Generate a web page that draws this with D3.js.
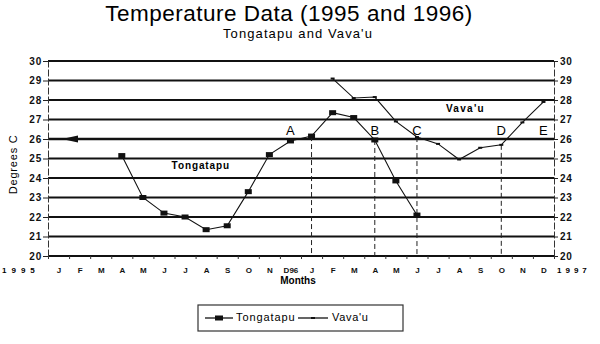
<!DOCTYPE html>
<html>
<head>
<meta charset="utf-8">
<script src="https://cdn.jsdelivr.net/npm/d3@7"></script>
<style>
  body { margin: 0; background: #fff; }
  svg { display: block; font-family: "Liberation Sans", Arial, Helvetica, sans-serif; }
</style>
</head>
<body>
<svg id="chart" width="600" height="344"></svg>
<script>
// month labels along the bottom, Jan 1995 .. Dec 1996
const monthLabels = ["J","F","M","A","M","J","J","A","S","O","N","D96",
                     "J","F","M","A","M","J","J","A","S","O","N","D"];
const yTicks = [20, 21, 22, 23, 24, 25, 26, 27, 28, 29, 30];

// Tongatapu starts April 1995 (month index 3)
const tongatapuStart = 3;
const tongatapuValues = [25.15, 23.0, 22.2, 22.0, 21.35, 21.55, 23.3, 25.2, 25.9,
                         26.15, 27.35, 27.1, 25.95, 23.85, 22.1];

// Vava'u starts February 1996 (month index 13)
const vavauStart = 13;
const vavauValues = [29.1, 28.1, 28.15, 26.9, 26.1, 25.75, 24.95, 25.55, 25.7, 26.85, 27.9];

// letters written above the 26 line, and the dashed drop lines
const noteLetters = ["A", "B", "C", "D", "E"];
const noteMonths = [11, 15, 17, 21, 23];
const dropMonths = [12, 15, 17, 21];
const dropSeries = ["Tongatapu", "Tongatapu", "Vava'u", "Vava'u"];

const svg = d3.select("#chart");

const x = d3.scaleLinear().domain([0, 24]).range([48, 554]);
const y = d3.scaleLinear().domain([20, 30]).range([256, 61]);
const mx = (m) => x(m + 0.5);

const tonga = tongatapuValues.map((v, i) => ({ m: tongatapuStart + i, v }));
const vava = vavauValues.map((v, i) => ({ m: vavauStart + i, v }));
const seriesByName = { "Tongatapu": tonga, "Vava'u": vava };

// titles
svg.append("text")
  .attr("x", 289).attr("y", 21)
  .attr("text-anchor", "middle")
  .style("font-size", "22.5px").style("letter-spacing", "0.5px")
  .text("Temperature Data (1995 and 1996)");
svg.append("text")
  .attr("x", 298).attr("y", 38)
  .attr("text-anchor", "middle")
  .style("font-size", "13px").style("letter-spacing", "1.1px")
  .text("Tongatapu and Vava'u");

// horizontal grid lines
svg.append("g")
  .selectAll("line")
  .data(yTicks)
  .join("line")
  .attr("x1", x(0)).attr("x2", x(24))
  .attr("y1", (d) => y(d)).attr("y2", (d) => y(d))
  .attr("stroke", "#111")
  .attr("stroke-width", (d) => (d === 26 ? 2.6 : 2));

// arrow on the 26 line
const y26 = y(26);
svg.append("path")
  .attr("d", `M${x(0) + 14},${y26} L${x(0) + 30},${y26 - 3.5} L${x(0) + 30},${y26 + 3.5} Z`)
  .attr("fill", "#111");

// left and right axes
const leftAxis = svg.append("g")
  .attr("transform", `translate(${x(0)},0)`)
  .call(d3.axisLeft(y).tickValues(yTicks).tickSize(5).tickSizeOuter(0).tickPadding(1));
const rightAxis = svg.append("g")
  .attr("transform", `translate(${x(24)},0)`)
  .call(d3.axisRight(y).tickValues(yTicks).tickSize(4).tickSizeOuter(0).tickPadding(2));
[leftAxis, rightAxis].forEach((g) => {
  g.select(".domain").attr("stroke", "#333").attr("stroke-dasharray", "7,2");
  g.selectAll(".tick line").attr("stroke", "#222");
  g.selectAll(".tick text")
    .attr("fill", "#111")
    .style("font-size", "10px").style("font-weight", "bold").style("letter-spacing", "0.8px");
});

// bottom ticks and month labels
const tickAxis = svg.append("g")
  .attr("transform", `translate(0,${y(20)})`)
  .call(d3.axisBottom(x).tickValues(d3.range(0, 25)).tickSize(3).tickFormat(""));
tickAxis.select(".domain").remove();
tickAxis.selectAll(".tick line").attr("stroke", "#333");

const labelAxis = svg.append("g")
  .attr("transform", `translate(0,${y(20)})`)
  .call(d3.axisBottom(x)
    .tickValues(d3.range(24).map((i) => i + 0.5))
    .tickSize(0).tickPadding(11)
    .tickFormat((d) => monthLabels[d - 0.5]));
labelAxis.select(".domain").remove();
labelAxis.selectAll(".tick text")
  .attr("fill", "#111")
  .style("font-size", "8px").style("font-weight", "bold");

svg.append("text")
  .attr("x", 2).attr("y", 273)
  .style("font-size", "8px").style("font-weight", "bold").style("letter-spacing", "5px")
  .text("1995");
svg.append("text")
  .attr("x", x(24) + 3).attr("y", 273)
  .style("font-size", "8px").style("font-weight", "bold").style("letter-spacing", "4px")
  .text("1997");

// axis titles
svg.append("text")
  .attr("transform", `translate(17,${y(24.7)}) rotate(-90)`)
  .attr("text-anchor", "middle")
  .style("font-size", "11px").style("letter-spacing", "0.8px")
  .text("Degrees C");
svg.append("text")
  .attr("x", 298).attr("y", 284)
  .attr("text-anchor", "middle")
  .style("font-size", "10px").style("font-weight", "bold")
  .text("Months");

// dashed drop lines
svg.append("g")
  .selectAll("line")
  .data(dropMonths.map((m, i) => {
    const pt = seriesByName[dropSeries[i]].find((d) => d.m === m);
    return { m, v: pt.v };
  }))
  .join("line")
  .attr("x1", (d) => mx(d.m)).attr("x2", (d) => mx(d.m))
  .attr("y1", (d) => y(d.v)).attr("y2", y(20))
  .attr("stroke", "#222").attr("stroke-width", 1)
  .attr("stroke-dasharray", "5,3");

// series
const line = d3.line().x((d) => mx(d.m)).y((d) => y(d.v));

svg.append("path")
  .datum(vava)
  .attr("d", line)
  .attr("fill", "none").attr("stroke", "#111").attr("stroke-width", 1.1);
svg.append("g")
  .selectAll("rect")
  .data(vava)
  .join("rect")
  .attr("x", (d) => mx(d.m) - 2).attr("y", (d) => y(d.v) - 1)
  .attr("width", 4).attr("height", 2)
  .attr("fill", "#111");

svg.append("path")
  .datum(tonga)
  .attr("d", line)
  .attr("fill", "none").attr("stroke", "#111").attr("stroke-width", 1.1);
svg.append("g")
  .selectAll("rect")
  .data(tonga)
  .join("rect")
  .attr("x", (d) => mx(d.m) - 3.5).attr("y", (d) => y(d.v) - 2.5)
  .attr("width", 7).attr("height", 5)
  .attr("fill", "#111");

// series names inside the plot
svg.append("text")
  .attr("x", x(7.25)).attr("y", y(24.45))
  .attr("text-anchor", "middle")
  .style("font-size", "10px").style("font-weight", "bold").style("letter-spacing", "0.9px")
  .text("Tongatapu");
svg.append("text")
  .attr("x", x(19.8)).attr("y", y(27.4))
  .attr("text-anchor", "middle")
  .style("font-size", "10px").style("font-weight", "bold").style("letter-spacing", "1.3px")
  .text("Vava'u");

// letters A-E
svg.append("g")
  .selectAll("text")
  .data(noteLetters)
  .join("text")
  .attr("x", (d, i) => mx(noteMonths[i]))
  .attr("y", y(26) - 4)
  .attr("text-anchor", "middle")
  .style("font-size", "13px")
  .text((d) => d);

// legend
const legend = svg.append("g").attr("transform", "translate(198,305)");
legend.append("rect")
  .attr("width", 205).attr("height", 26)
  .attr("fill", "#fff").attr("stroke", "#333").attr("stroke-width", 1.2);
legend.append("line")
  .attr("x1", 7).attr("x2", 35).attr("y1", 13).attr("y2", 13)
  .attr("stroke", "#111").attr("stroke-width", 1.3);
legend.append("rect")
  .attr("x", 17).attr("y", 10.5).attr("width", 8).attr("height", 5)
  .attr("fill", "#111");
legend.append("text")
  .attr("x", 38).attr("y", 16)
  .style("font-size", "11px").style("letter-spacing", "0.9px")
  .text("Tongatapu");
legend.append("line")
  .attr("x1", 100).attr("x2", 130).attr("y1", 13).attr("y2", 13)
  .attr("stroke", "#111").attr("stroke-width", 1.3);
legend.append("rect")
  .attr("x", 113).attr("y", 12).attr("width", 4).attr("height", 2)
  .attr("fill", "#111");
legend.append("text")
  .attr("x", 134).attr("y", 16)
  .style("font-size", "11px").style("letter-spacing", "0.7px")
  .text("Vava'u");
</script>
</body>
</html>
